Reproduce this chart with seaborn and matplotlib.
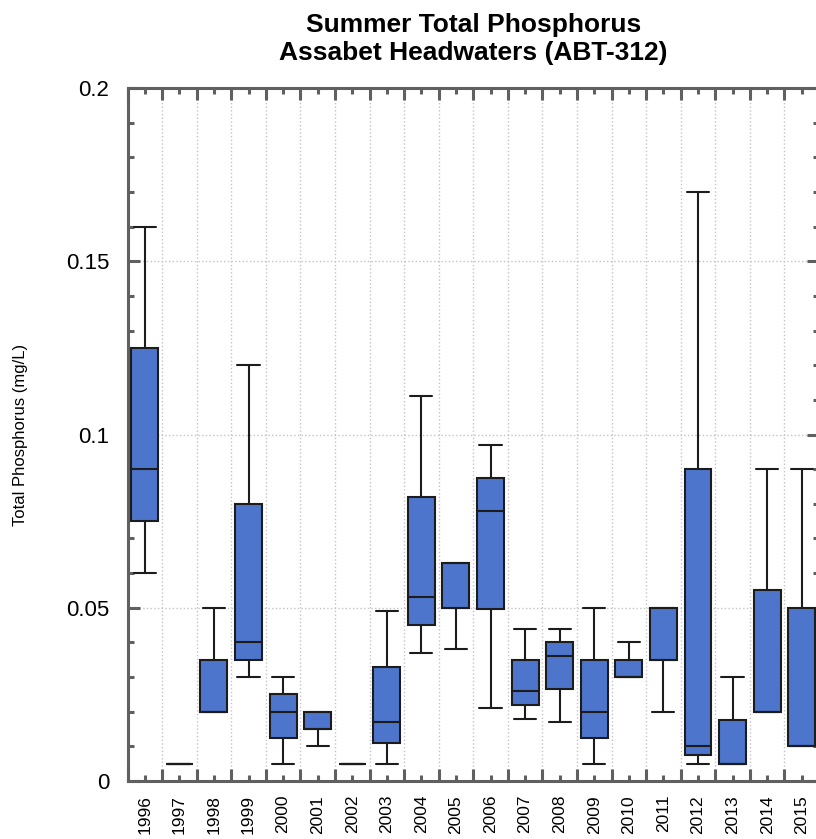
import numpy as np
import pandas as pd
import matplotlib
matplotlib.use("Agg")
import matplotlib.pyplot as plt
import seaborn as sns

# Summer total phosphorus summary statistics per year (mg/L)
years = [str(y) for y in range(1996, 2016)]
whisker_low = [0.060, 0.005, 0.020, 0.030, 0.005, 0.010, 0.005, 0.005, 0.037, 0.038,
               0.021, 0.018, 0.017, 0.005, 0.030, 0.020, 0.005, 0.005, 0.020, 0.010]
quartile_1 = [0.075, 0.005, 0.020, 0.035, 0.0125, 0.015, 0.005, 0.011, 0.045, 0.050,
              0.0495, 0.022, 0.0265, 0.0125, 0.030, 0.035, 0.0075, 0.005, 0.020, 0.010]
median = [0.090, 0.005, 0.020, 0.040, 0.020, 0.015, 0.005, 0.017, 0.053, 0.050,
          0.078, 0.026, 0.036, 0.020, 0.030, 0.035, 0.010, 0.005, 0.020, 0.010]
quartile_3 = [0.125, 0.005, 0.035, 0.080, 0.025, 0.020, 0.005, 0.033, 0.082, 0.063,
              0.0875, 0.035, 0.040, 0.035, 0.035, 0.050, 0.090, 0.0175, 0.055, 0.050]
whisker_high = [0.160, 0.005, 0.050, 0.120, 0.030, 0.020, 0.005, 0.049, 0.111, 0.063,
                0.097, 0.044, 0.044, 0.050, 0.040, 0.050, 0.170, 0.030, 0.090, 0.090]

# Five-number summaries as long-form rows; with five points per group the
# linear percentiles reproduce the quartiles exactly.
rows = []
for i, yr in enumerate(years):
    for v in (whisker_low[i], quartile_1[i], median[i], quartile_3[i], whisker_high[i]):
        rows.append({"Year": yr, "TP": v})
df = pd.DataFrame(rows)

sns.set_style("white")
plt.rcParams["font.family"] = ["Liberation Sans", "DejaVu Sans"]
plt.rcParams["text.color"] = "black"

W, H = 816, 839
fig = plt.figure(figsize=(W / 100, H / 100), dpi=100)
ax_left, ax_right, ax_top, ax_bottom = 127.5, 819.0, 88.0, 781.0
ax = fig.add_axes([ax_left / W, 1 - ax_bottom / H,
                   (ax_right - ax_left) / W, (ax_bottom - ax_top) / H])

box_color = "#4E75CC"
sns.boxplot(data=df, x="Year", y="TP", order=years, ax=ax,
            color=box_color, saturation=1, width=0.78, whis=(0, 100),
            linecolor="#1c1c1c", linewidth=1.5, showfliers=False,
            capwidths=0.64)

ax.set_xlim(-0.5, len(years) - 0.5)
ax.set_ylim(0, 0.2)

# Category boundaries carry the long ticks and grid; labels sit at centres
ax.set_xticks(np.arange(-0.5, len(years), 1.0))
ax.set_xticklabels([])
ax.set_xticks(np.arange(len(years)), minor=True)
ax.set_xticklabels(years, minor=True, rotation=90, fontsize=12.5)

ax.set_yticks([0, 0.05, 0.1, 0.15, 0.2])
ax.set_yticklabels(["0", "0.05", "0.1", "0.15", "0.2"], fontsize=16)
ax.set_yticks(np.arange(0, 0.2001, 0.01), minor=True)

spine_c = "#606060"
for s in ax.spines.values():
    s.set_visible(True)
    s.set_color(spine_c)
    s.set_linewidth(2.2)

ax.tick_params(which="both", direction="in", top=True, right=True,
               bottom=True, left=True,
               color=spine_c, width=2.2, labelcolor="black")
ax.tick_params(which="major", length=8.5)
ax.tick_params(which="minor", length=4.3)
ax.tick_params(axis="x", which="minor", pad=10)
ax.tick_params(axis="y", which="major", pad=13)

ax.grid(False, which="minor")
ax.grid(True, which="major", linestyle=":", color="#c4c4c4", linewidth=1.0)
ax.set_axisbelow(True)

ax.set_xlabel("")
ax.set_ylabel("")
fig.text(21 / W, 1 - 434.5 / H, "Total Phosphorus (mg/L)", rotation=90,
         ha="center", va="center", fontsize=12, color="black")

ax.set_title("Summer Total Phosphorus\nAssabet Headwaters (ABT-312)",
             fontsize=19, fontweight="bold", pad=20, linespacing=1.2,
             color="black")

fig.savefig("out.png", dpi=100)
